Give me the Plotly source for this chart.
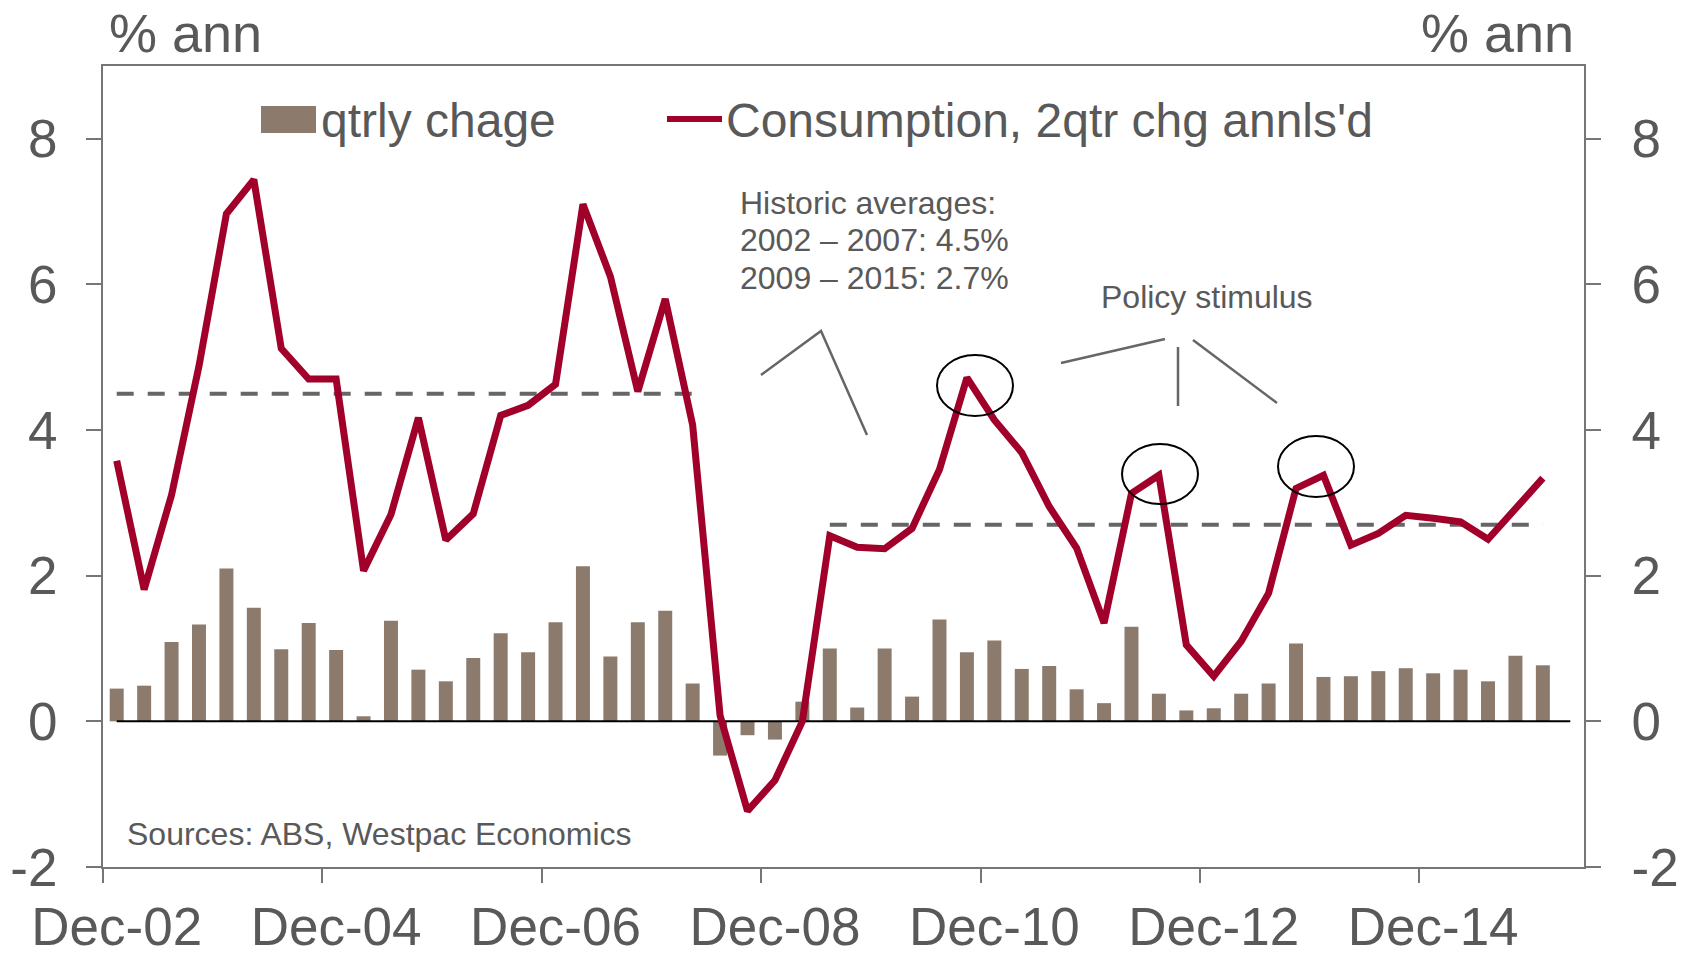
import plotly.graph_objects as go

quarters = ["Dec-02","Mar-03","Jun-03","Sep-03","Dec-03","Mar-04","Jun-04","Sep-04",
            "Dec-04","Mar-05","Jun-05","Sep-05","Dec-05","Mar-06","Jun-06","Sep-06",
            "Dec-06","Mar-07","Jun-07","Sep-07","Dec-07","Mar-08","Jun-08","Sep-08",
            "Dec-08","Mar-09","Jun-09","Sep-09","Dec-09","Mar-10","Jun-10","Sep-10",
            "Dec-10","Mar-11","Jun-11","Sep-11","Dec-11","Mar-12","Jun-12","Sep-12",
            "Dec-12","Mar-13","Jun-13","Sep-13","Dec-13","Mar-14","Jun-14","Sep-14",
            "Dec-14","Mar-15","Jun-15","Sep-15","Dec-15","Mar-16"]

qtrly_change = [0.45, 0.49, 1.09, 1.33, 2.10, 1.56, 0.99, 1.35, 0.98, 0.07, 1.38, 0.71,
                0.55, 0.87, 1.21, 0.95, 1.36, 2.13, 0.89, 1.36, 1.52, 0.52, -0.47, -0.19,
                -0.25, 0.27, 1.00, 0.19, 1.00, 0.34, 1.40, 0.95, 1.11, 0.72, 0.76, 0.44,
                0.25, 1.30, 0.38, 0.15, 0.18, 0.38, 0.52, 1.07, 0.61, 0.62, 0.69, 0.73,
                0.66, 0.71, 0.55, 0.90, 0.77]

consumption_2q = [3.58, 1.81, 3.11, 4.88, 6.97, 7.44, 5.12, 4.70, 4.70, 2.07, 2.84, 4.17,
                  2.49, 2.85, 4.20, 4.34, 4.63, 7.10, 6.11, 4.53, 5.80, 4.07, 0.08, -1.23,
                  -0.81, 0.00, 2.55, 2.39, 2.37, 2.65, 3.46, 4.72, 4.14, 3.69, 2.95, 2.38,
                  1.35, 3.13, 3.38, 1.05, 0.62, 1.10, 1.76, 3.20, 3.38, 2.42, 2.58, 2.83,
                  2.79, 2.74, 2.50, 2.92, 3.34]

avg1_period = ["Dec-02", "Mar-08"]
avg1_value = 4.5
avg2_period = ["Jun-09", "Dec-15"]
avg2_value = 2.7
zero_span = ["Dec-02", "Mar-16"]

xtick_labels = ["Dec-02", "Dec-04", "Dec-06", "Dec-08", "Dec-10", "Dec-12", "Dec-14"]
ytick_vals = [-2, 0, 2, 4, 6, 8]
ytick_text = ["-2", "0", "2", "4", "6", "8"]

BAR_COLOR = "#8C7B6D"
LINE_COLOR = "#A0002A"
TEXT = "#595959"
AXIS = "#767676"
DASH = "#666666"
FONT = "Liberation Sans, Arial, sans-serif"

W, H = 1683, 953
L, R, T, B = 103, 1584, 66, 867


def px(xp):
    return (xp - L) / (R - L)


def py(yp):
    return (B - yp) / (B - T)


# tick marks sit on the category boundary to the left of each label
tick_bounds = [quarters.index(lbl) - 0.5 for lbl in xtick_labels]

fig = go.Figure()

fig.add_trace(go.Bar(x=quarters[:len(qtrly_change)], y=qtrly_change, marker_color=BAR_COLOR,
                     marker_line_width=0, name="qtrly chage", showlegend=False))
fig.add_trace(go.Scatter(x=zero_span, y=[0, 0], mode="lines",
                         line=dict(color="black", width=2), showlegend=False, hoverinfo="skip"))
fig.add_trace(go.Scatter(x=avg1_period, y=[avg1_value] * 2, mode="lines",
                         line=dict(color=DASH, width=4, dash="17px,14px"),
                         showlegend=False))
fig.add_trace(go.Scatter(x=avg2_period, y=[avg2_value] * 2, mode="lines",
                         line=dict(color=DASH, width=4, dash="17px,14px"),
                         showlegend=False))
fig.add_trace(go.Scatter(x=quarters[:len(consumption_2q)], y=consumption_2q, mode="lines",
                         line=dict(color=LINE_COLOR, width=7),
                         name="Consumption, 2qtr chg annls'd", showlegend=False, yaxis="y2"))
# carrier for the tick-mark axis
fig.add_trace(go.Scatter(x=[tick_bounds[0]], y=[None], mode="lines", xaxis="x2",
                         showlegend=False, hoverinfo="skip"))

shapes = []
annotations = []

# manual legend
shapes.append(dict(type="rect", xref="paper", yref="paper", x0=px(261), x1=px(316),
                   y0=py(133), y1=py(106), fillcolor=BAR_COLOR, line=dict(width=0)))
annotations.append(dict(xref="paper", yref="paper", x=px(319), y=py(120), text="qtrly chage",
                        showarrow=False, xanchor="left", yanchor="middle",
                        font=dict(size=48, color=TEXT, family=FONT)))
shapes.append(dict(type="line", xref="paper", yref="paper", x0=px(667), x1=px(722),
                   y0=py(119), y1=py(119), line=dict(color=LINE_COLOR, width=6)))
annotations.append(dict(xref="paper", yref="paper", x=px(724), y=py(120),
                        text="Consumption, 2qtr chg annls'd",
                        showarrow=False, xanchor="left", yanchor="middle",
                        font=dict(size=48, color=TEXT, family=FONT)))

# unit labels
annotations.append(dict(xref="paper", yref="paper", x=px(107), y=py(33), text="% ann",
                        showarrow=False, xanchor="left", yanchor="middle",
                        font=dict(size=54, color=TEXT, family=FONT)))
annotations.append(dict(xref="paper", yref="paper", x=px(1576), y=py(33), text="% ann",
                        showarrow=False, xanchor="right", yanchor="middle",
                        font=dict(size=54, color=TEXT, family=FONT)))

# notes
for txt, yy in [("Historic averages:", 203), ("2002 \u2013 2007: 4.5%", 240),
                ("2009 \u2013 2015: 2.7%", 278)]:
    annotations.append(dict(xref="paper", yref="paper", x=px(738), y=py(yy), text=txt,
                            showarrow=False, xanchor="left", yanchor="middle",
                            font=dict(size=32, color=TEXT, family=FONT)))
annotations.append(dict(xref="paper", yref="paper", x=px(1207), y=py(297),
                        text="Policy stimulus", showarrow=False, xanchor="center",
                        yanchor="middle", font=dict(size=32, color=TEXT, family=FONT)))
annotations.append(dict(xref="paper", yref="paper", x=px(125), y=py(834),
                        text="Sources: ABS, Westpac Economics", showarrow=False,
                        xanchor="left", yanchor="middle",
                        font=dict(size=32, color=TEXT, family=FONT)))

# callout lines
callout = dict(color="#666666", width=2.5)
shapes.append(dict(type="path", xref="paper", yref="paper",
                   path=f"M {px(761)},{py(375)} L {px(821)},{py(331)} L {px(867)},{py(435)}",
                   line=callout))
for (x0, y0, x1, y1) in [(1061, 363, 1165, 339), (1178, 347, 1178, 406),
                         (1193, 340, 1277, 403)]:
    shapes.append(dict(type="line", xref="paper", yref="paper", x0=px(x0), y0=py(y0),
                       x1=px(x1), y1=py(y1), line=callout))

# ellipses
for (x0, x1, y0, y1) in [(937, 1013, 355, 416), (1122, 1198, 444, 504),
                         (1278, 1354, 436, 497)]:
    shapes.append(dict(type="circle", xref="paper", yref="paper", x0=px(x0), x1=px(x1),
                       y0=py(y1), y1=py(y0), line=dict(color="black", width=2)))

tickfont = dict(size=53, color=TEXT, family=FONT)

fig.update_layout(
    width=W, height=H,
    margin=dict(l=L, r=W - R, t=T, b=H - B, pad=0, autoexpand=False),
    paper_bgcolor="white", plot_bgcolor="white",
    bargap=0.49,
    showlegend=False,
    font=dict(family=FONT, color=TEXT),
    shapes=shapes, annotations=annotations,
    xaxis=dict(type="category", categoryorder="array", categoryarray=quarters,
               range=[-0.5, len(quarters) - 0.5], automargin=False, tickangle=0,
               tickmode="array", tickvals=xtick_labels, ticktext=xtick_labels,
               ticks="outside", ticklen=15, tickwidth=2, tickcolor="rgba(0,0,0,0)",
               showline=True, linecolor=AXIS, linewidth=2, mirror=True,
               showgrid=False, zeroline=False, ticklabelstandoff=-3,
               tickfont=tickfont),
    xaxis2=dict(overlaying="x", anchor="y", range=[-0.5, len(quarters) - 0.5],
                tickmode="array", tickvals=tick_bounds, showticklabels=False,
                ticks="outside", ticklen=15, tickwidth=2, tickcolor=AXIS,
                showline=False, showgrid=False, zeroline=False, automargin=False,
                fixedrange=True),
    yaxis=dict(range=[-2, 9], tickvals=ytick_vals, ticktext=ytick_text, ticks="outside",
               ticklen=15, automargin=False,
               tickwidth=2, tickcolor=AXIS, showline=True, linecolor=AXIS, linewidth=2,
               mirror=True, showgrid=False, zeroline=False, ticklabelstandoff=18,
               tickfont=tickfont),
    yaxis2=dict(range=[-2, 9], overlaying="y", side="right", tickvals=ytick_vals,
                ticktext=ytick_text, automargin=False,
                ticks="outside", ticklen=15, tickwidth=2, tickcolor=AXIS, showline=True,
                linecolor=AXIS, linewidth=2, showgrid=False, zeroline=False,
                ticklabelstandoff=20,
                tickfont=tickfont),
)

fig.write_html("out.html", config={"displayModeBar": False},
               post_script="document.body.style.margin='0px';")
